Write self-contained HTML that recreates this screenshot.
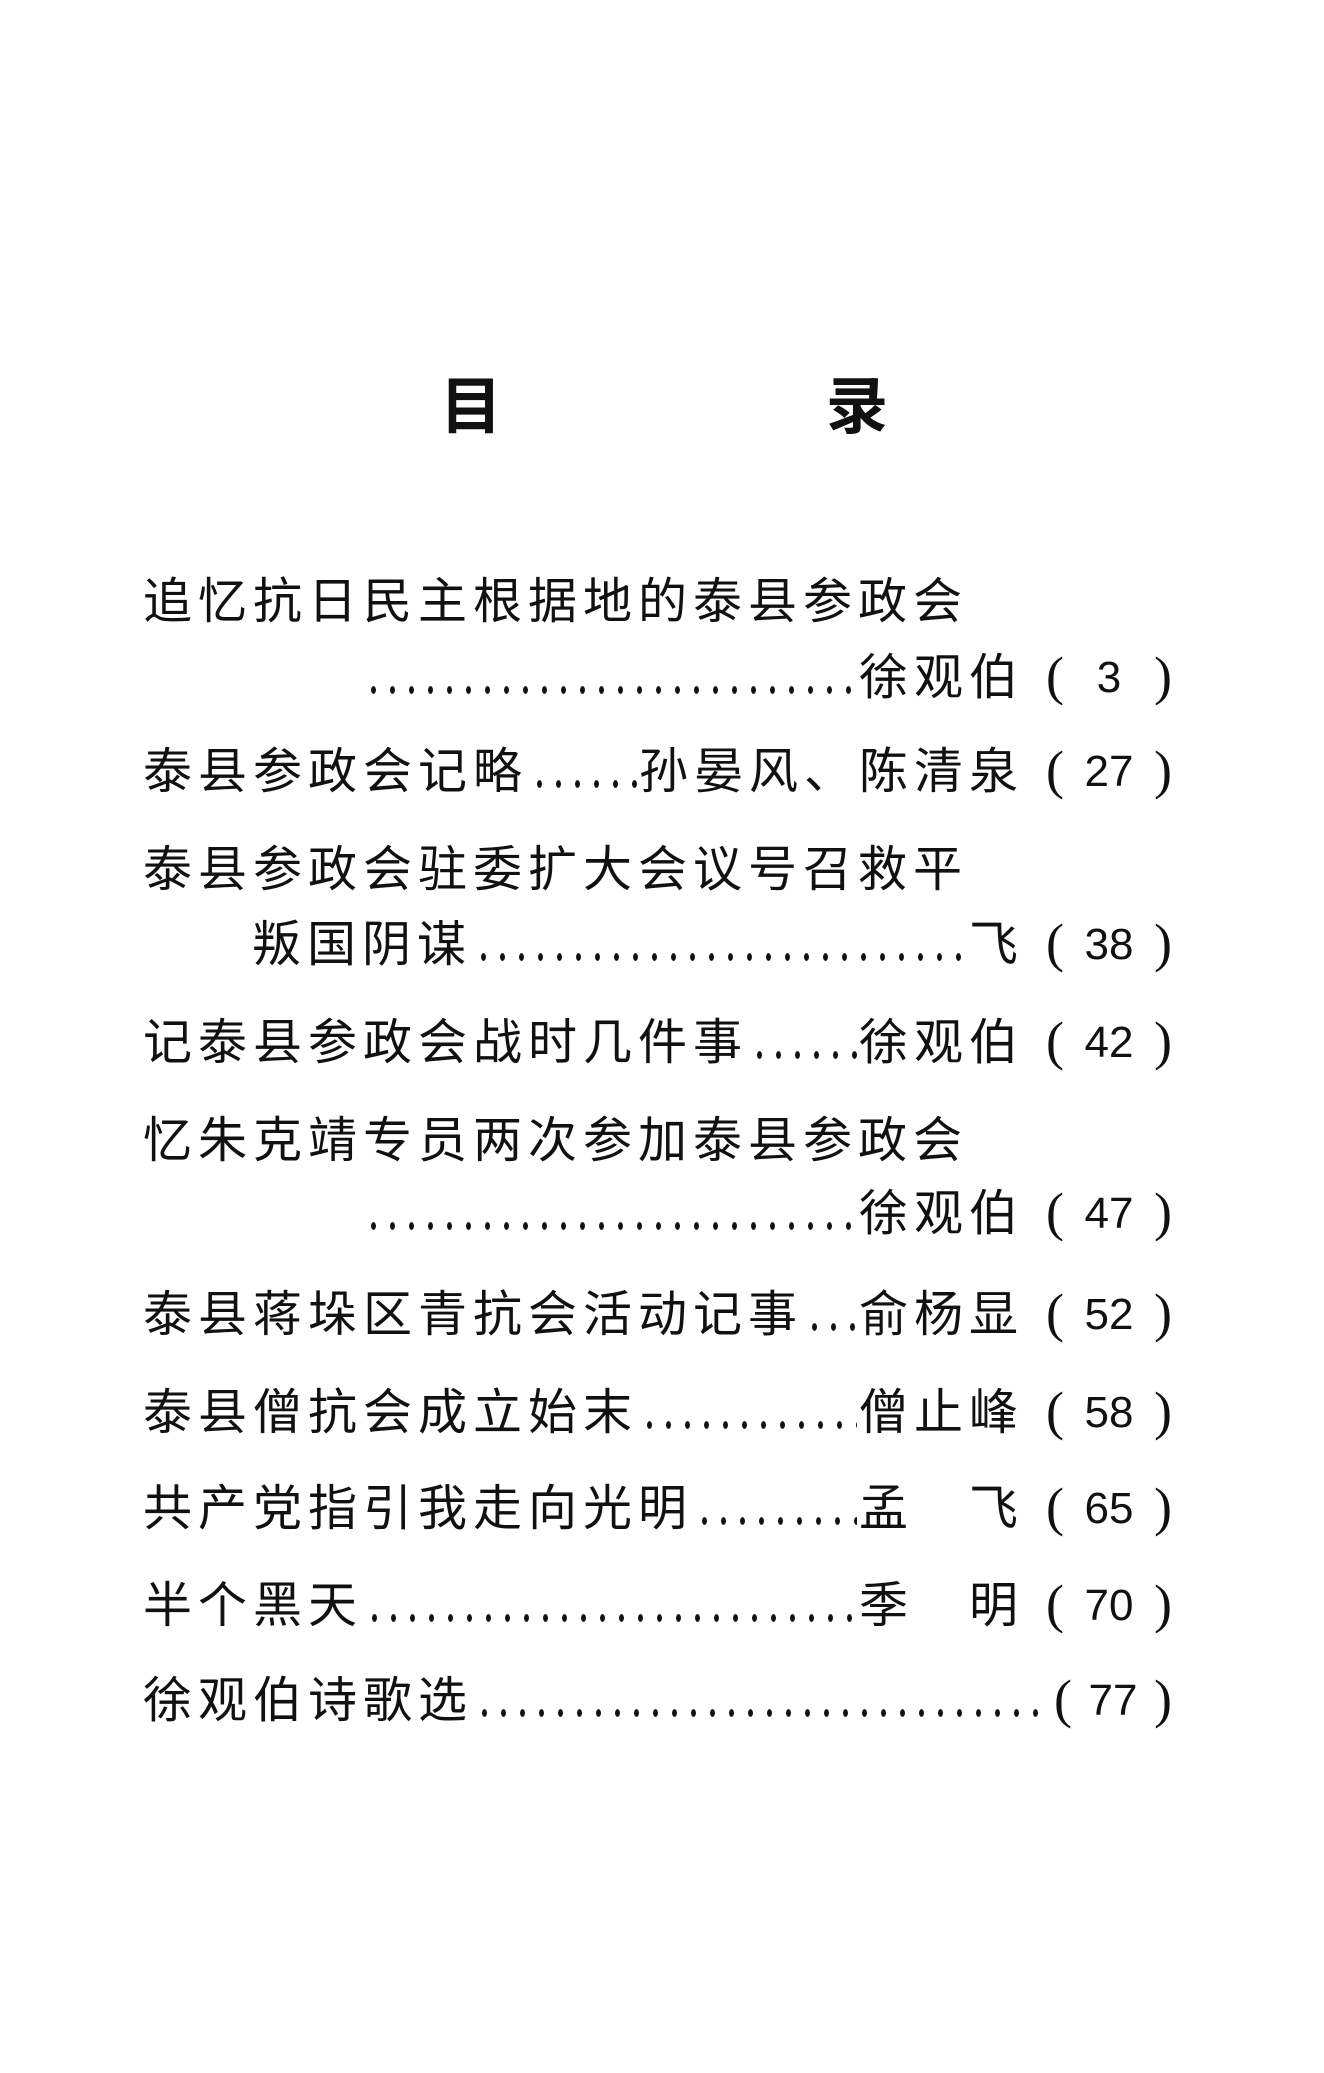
<!DOCTYPE html>
<html><head><meta charset="utf-8"><style>
html,body{margin:0;padding:0;background:#fff;}
body{width:1324px;height:2073px;position:relative;overflow:hidden;font-family:"Liberation Serif","Noto Sans CJK SC",sans-serif;color:#111;}
.t{position:absolute;font-size:62px;font-weight:bold;line-height:70px;top:373px;}
.l{position:absolute;left:143px;width:1029px;height:60px;display:flex;align-items:center;font-size:49px;line-height:60px;white-space:nowrap;}
.tx{letter-spacing:6px;}
.d{flex:1;height:60px;background-image:radial-gradient(ellipse 2.6px 4.2px at 50% 50%,#111 85%,transparent 100%);background-size:19px 12px;background-repeat:repeat-x;background-position:0 36px;margin:0 2px;}
.a{letter-spacing:6px;}
.p{width:126px;position:relative;height:60px;flex:none;margin-left:22px;}
.p .o{position:absolute;left:0;top:-2px;font-family:"Liberation Serif",serif;font-size:54px;}
.p .c{position:absolute;right:0;top:-2px;font-family:"Liberation Serif",serif;font-size:54px;}
.p .n{position:absolute;left:0;right:0;text-align:center;top:0;font-family:"Liberation Sans",sans-serif;font-size:44px;}
</style></head><body>
<div class="t" style="left:440px">目</div>
<div class="t" style="left:826px">录</div>

<div class="l" style="top:572px"><span class="tx">追忆抗日民主根据地的泰县参政会</span></div>
<div class="l" style="top:648px;left:364px;width:808px"><span class="d" style="margin-left:0"></span><span class="a">徐观伯</span><span class="p"><span class="o">(</span><span class="n">3</span><span class="c">)</span></span></div>
<div class="l" style="top:742px"><span class="tx">泰县参政会记略</span><span class="d"></span><span class="a">孙晏风、陈清泉</span><span class="p"><span class="o">(</span><span class="n">27</span><span class="c">)</span></span></div>
<div class="l" style="top:840px"><span class="tx">泰县参政会驻委扩大会议号召救平</span></div>
<div class="l" style="top:915px;left:252px;width:920px"><span class="tx">叛国阴谋</span><span class="d"></span><span class="a">飞</span><span class="p"><span class="o">(</span><span class="n">38</span><span class="c">)</span></span></div>
<div class="l" style="top:1013px"><span class="tx">记泰县参政会战时几件事</span><span class="d"></span><span class="a">徐观伯</span><span class="p"><span class="o">(</span><span class="n">42</span><span class="c">)</span></span></div>
<div class="l" style="top:1111px"><span class="tx">忆朱克靖专员两次参加泰县参政会</span></div>
<div class="l" style="top:1184px;left:364px;width:808px"><span class="d" style="margin-left:0"></span><span class="a">徐观伯</span><span class="p"><span class="o">(</span><span class="n">47</span><span class="c">)</span></span></div>
<div class="l" style="top:1285px"><span class="tx">泰县蒋垛区青抗会活动记事</span><span class="d"></span><span class="a">俞杨显</span><span class="p"><span class="o">(</span><span class="n">52</span><span class="c">)</span></span></div>
<div class="l" style="top:1383px"><span class="tx">泰县僧抗会成立始末</span><span class="d"></span><span class="a">僧止峰</span><span class="p"><span class="o">(</span><span class="n">58</span><span class="c">)</span></span></div>
<div class="l" style="top:1479px"><span class="tx">共产党指引我走向光明</span><span class="d"></span><span class="a">孟　飞</span><span class="p"><span class="o">(</span><span class="n">65</span><span class="c">)</span></span></div>
<div class="l" style="top:1576px"><span class="tx">半个黑天</span><span class="d"></span><span class="a">季　明</span><span class="p"><span class="o">(</span><span class="n">70</span><span class="c">)</span></span></div>
<div class="l" style="top:1671px"><span class="tx">徐观伯诗歌选</span><span class="d"></span><span class="p" style="width:118px;margin-left:6px"><span class="o">(</span><span class="n">77</span><span class="c">)</span></span></div>
</body></html>
